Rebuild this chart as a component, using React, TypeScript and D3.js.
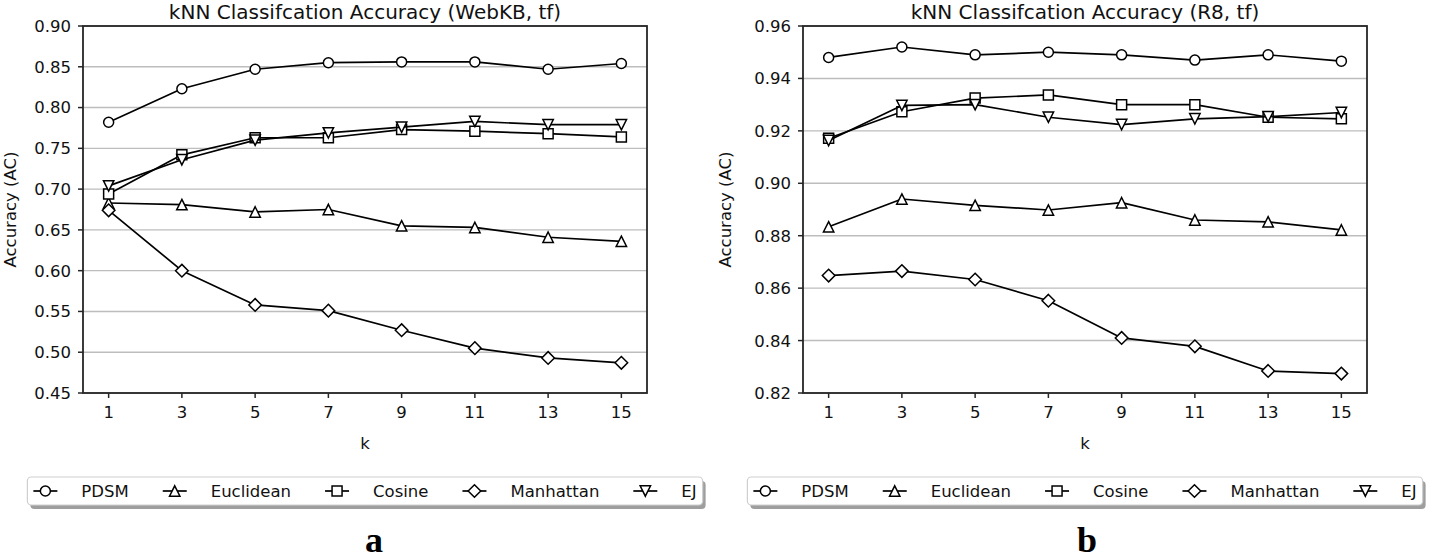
import React from "react";
import * as d3 from "d3";

const K = [1, 3, 5, 7, 9, 11, 13, 15];
const SERIES_NAMES = ["PDSM", "Euclidean", "Cosine", "Manhattan", "EJ"];
const MARKERS = ["circle", "triangleUp", "square", "diamond", "triangleDown"];

// WebKB, tf
const webkbPDSM = [0.782, 0.823, 0.847, 0.855, 0.856, 0.856, 0.847, 0.854];
const webkbEuclidean = [0.683, 0.681, 0.672, 0.675, 0.655, 0.653, 0.641, 0.636];
const webkbCosine = [0.694, 0.742, 0.763, 0.763, 0.773, 0.771, 0.768, 0.764];
const webkbManhattan = [0.674, 0.6, 0.558, 0.551, 0.527, 0.505, 0.493, 0.487];
const webkbEJ = [0.704, 0.736, 0.76, 0.769, 0.776, 0.783, 0.779, 0.779];

// R8, tf
const r8PDSM = [0.948, 0.952, 0.949, 0.95, 0.949, 0.947, 0.949, 0.9466];
const r8Euclidean = [0.8834, 0.894, 0.8916, 0.8898, 0.8926, 0.886, 0.8853, 0.8822];
const r8Cosine = [0.9172, 0.9273, 0.9325, 0.9337, 0.93, 0.93, 0.9252, 0.9246];
const r8Manhattan = [0.8648, 0.8665, 0.8633, 0.8552, 0.841, 0.8378, 0.8284, 0.8274];
const r8EJ = [0.9163, 0.9297, 0.93, 0.9252, 0.9224, 0.9246, 0.9254, 0.927];

const webkbTicks = [0.45, 0.5, 0.55, 0.6, 0.65, 0.7, 0.75, 0.8, 0.85, 0.9];
const r8Ticks = [0.82, 0.84, 0.86, 0.88, 0.9, 0.92, 0.94, 0.96];

const FONT = "'DejaVu Sans', 'Noto Sans', sans-serif";
const TICK_FS = 16.5;

let _ctx: CanvasRenderingContext2D | null = null;
function textWidth(s: string, size: number) {
  if (!_ctx) {
    const c = document.createElement("canvas");
    _ctx = c.getContext("2d");
  }
  if (!_ctx) return s.length * size * 0.6;
  _ctx.font = `${size}px 'DejaVu Sans'`;
  return _ctx.measureText(s).width;
}

function markerPath(type: string) {
  switch (type) {
    case "circle":
      return "M5,0A5,5 0 1,1 -5,0A5,5 0 1,1 5,0Z";
    case "square":
      return "M-5,-5H5V5H-5Z";
    case "triangleUp":
      return "M0,-5.2L5.2,5.2L-5.2,5.2Z";
    case "triangleDown":
      return "M0,5.2L5.2,-5.2L-5.2,-5.2Z";
    case "diamond":
      return "M0,-6.3L6.3,0L0,6.3L-6.3,0Z";
    default:
      return "";
  }
}

type PanelProps = {
  x0: number;
  x1: number;
  y0: number;
  y1: number;
  yDomain: [number, number];
  yTicks: number[];
  title: string;
  data: number[][];
  ylabelX: number;
  letter: string;
  letterX: number;
};

function Panel({ x0, x1, y0, y1, yDomain, yTicks, title, data, ylabelX, letter, letterX }: PanelProps) {
  const x = d3.scaleLinear().domain([0.3, 15.7]).range([x0, x1]);
  const y = d3.scaleLinear().domain(yDomain).range([y1, y0]);
  const line = d3
    .line<number>()
    .x((_, i) => x(K[i]))
    .y((v) => y(v));
  const fmt = d3.format(".2f");
  const cx = (x0 + x1) / 2;

  // legend layout
  const pad = 6;
  const handleToText = 48;
  const gap = 34;
  const widths = SERIES_NAMES.map((n) => textWidth(n, TICK_FS));
  const total = pad * 2 + widths.reduce((a, w) => a + w + handleToText, 0) + gap * (SERIES_NAMES.length - 1);
  const legLeft = cx - total / 2;
  const legTop = 477;
  const legH = 28;
  const legMid = legTop + legH / 2;
  let acc = legLeft + pad;
  const items = SERIES_NAMES.map((n, i) => {
    const hx = acc;
    acc += handleToText + widths[i] + gap;
    return { name: n, hx, marker: MARKERS[i] };
  });

  return (
    <g>
      {/* grid */}
      {yTicks.map((t) => (
        <line key={"g" + t} x1={x0} x2={x1} y1={y(t)} y2={y(t)} stroke="#bdbdbd" strokeWidth={1.4} />
      ))}
      {/* series */}
      {data.map((vals, si) => (
        <g key={"s" + si}>
          <path d={line(vals) || ""} fill="none" stroke="#000" strokeWidth={1.7} strokeLinejoin="round" />
          {vals.map((v, i) => (
            <path
              key={i}
              d={markerPath(MARKERS[si])}
              transform={`translate(${x(K[i])},${y(v)})`}
              fill="#fff"
              stroke="#000"
              strokeWidth={1.5}
            />
          ))}
        </g>
      ))}
      {/* spines */}
      <rect x={x0} y={y0} width={x1 - x0} height={y1 - y0} fill="none" stroke="#262626" strokeWidth={1.8} />
      {/* y ticks */}
      {yTicks.map((t) => (
        <g key={"yt" + t}>
          <line x1={x0 - 5} x2={x0} y1={y(t)} y2={y(t)} stroke="#262626" strokeWidth={1.5} />
          <text
            x={x0 - 12}
            y={y(t)}
            dy="0.36em"
            textAnchor="end"
            fontFamily={FONT}
            fontSize={TICK_FS}
            fill="#111"
          >
            {fmt(t)}
          </text>
        </g>
      ))}
      {/* x ticks */}
      {K.map((k) => (
        <g key={"xt" + k}>
          <line x1={x(k)} x2={x(k)} y1={y1} y2={y1 + 5} stroke="#262626" strokeWidth={1.5} />
          <text x={x(k)} y={418} textAnchor="middle" fontFamily={FONT} fontSize={TICK_FS} fill="#111">
            {k}
          </text>
        </g>
      ))}
      {/* title */}
      <text x={cx} y={19} textAnchor="middle" fontFamily={FONT} fontSize={20} fill="#111">
        {title}
      </text>
      {/* axis labels */}
      <text x={cx} y={449} textAnchor="middle" fontFamily={FONT} fontSize={TICK_FS} fill="#111">
        k
      </text>
      <text
        transform={`translate(${ylabelX},${(y0 + y1) / 2}) rotate(-90)`}
        textAnchor="middle"
        fontFamily={FONT}
        fontSize={TICK_FS}
        fill="#111"
      >
        Accuracy (AC)
      </text>
      {/* legend */}
      <rect x={legLeft + 3} y={legTop + 4} width={total} height={legH} rx={4} fill="#9e9e9e" />
      <rect x={legLeft} y={legTop} width={total} height={legH} rx={4} fill="#fff" stroke="#cfcfcf" strokeWidth={1.2} />
      {items.map((it) => (
        <g key={"l" + it.name}>
          <line x1={it.hx} x2={it.hx + 24} y1={legMid} y2={legMid} stroke="#000" strokeWidth={1.7} />
          <path
            d={markerPath(it.marker)}
            transform={`translate(${it.hx + 12},${legMid})`}
            fill="#fff"
            stroke="#000"
            strokeWidth={1.5}
          />
          <text
            x={it.hx + handleToText}
            y={legMid}
            dy="0.36em"
            fontFamily={FONT}
            fontSize={TICK_FS}
            fill="#111"
          >
            {it.name}
          </text>
        </g>
      ))}
      {/* panel letter */}
      <text
        x={letterX}
        y={552}
        textAnchor="middle"
        fontFamily="'Liberation Serif', 'Times New Roman', serif"
        fontWeight="bold"
        fontSize={36}
        fill="#000"
      >
        {letter}
      </text>
    </g>
  );
}

export default function App() {
  return (
    <svg
      width={1429}
      height={560}
      viewBox="0 0 1429 560"
      style={{ position: "absolute", left: 0, top: 0, background: "#fff" }}
    >
      <rect x={0} y={0} width={1429} height={560} fill="#fff" />
      <Panel
        x0={83}
        x1={647}
        y0={26}
        y1={393}
        yDomain={[0.45, 0.9]}
        yTicks={webkbTicks}
        title="kNN Classifcation Accuracy (WebKB, tf)"
        data={[webkbPDSM, webkbEuclidean, webkbCosine, webkbManhattan, webkbEJ]}
        ylabelX={16}
        letter="a"
        letterX={374}
      />
      <Panel
        x0={803}
        x1={1367}
        y0={26}
        y1={393}
        yDomain={[0.82, 0.96]}
        yTicks={r8Ticks}
        title="kNN Classifcation Accuracy (R8, tf)"
        data={[r8PDSM, r8Euclidean, r8Cosine, r8Manhattan, r8EJ]}
        ylabelX={731}
        letter="b"
        letterX={1087}
      />
    </svg>
  );
}
